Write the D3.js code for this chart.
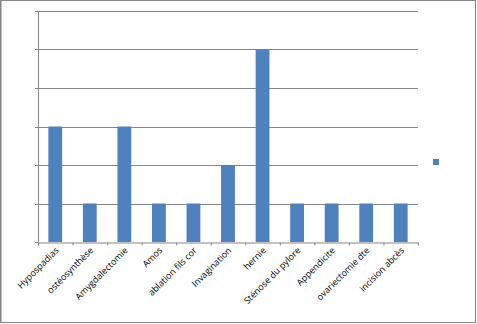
<!DOCTYPE html>
<html>
<head>
<meta charset="utf-8">
<script src="https://cdn.jsdelivr.net/npm/d3@7"></script>
<style>
  body { margin: 0; background: #fff; }
  svg { display: block; }
</style>
</head>
<body>
<div id="chart"></div>
<script>
// data
const categories = ['Hypospadias', 'ostéosynthèse', 'Amygdalectomie', 'Amos', 'ablation fils cor',
  'Invagination', 'hernie', 'Sténose du pylore', 'Appendicite', 'ovariectomie dte', 'incision abcès'];
const values = [3, 1, 3, 1, 1, 2, 5, 1, 1, 1, 1];
const yTicks = [0, 1, 2, 3, 4, 5, 6];

const width = 477, height = 324;
const margin = { top: 11, right: 59, bottom: 82, left: 38 };
const innerW = width - margin.left - margin.right;
const innerH = height - margin.top - margin.bottom;
const axisColor = '#868686';

const svg = d3.select('#chart').append('svg')
  .attr('width', width)
  .attr('height', height);

// outer frame
svg.append('rect')
  .attr('x', 1).attr('y', 0.5)
  .attr('width', width - 2.5).attr('height', height - 2)
  .attr('fill', 'none')
  .attr('stroke', axisColor)
  .attr('stroke-width', 1);
svg.append('line')
  .attr('x1', 0.5).attr('x2', 0.5).attr('y1', 0).attr('y2', height - 1)
  .attr('stroke', axisColor);

const chart = svg.append('g')
  .attr('transform', `translate(${margin.left}, ${margin.top})`);

const x = d3.scaleBand().domain(categories).range([0, innerW]).paddingInner(0.6).paddingOuter(0.3);
const y = d3.scaleLinear().domain([0, 6]).range([innerH, 0]);

// gridlines
chart.append('g')
  .selectAll('line')
  .data(yTicks.slice(1))
  .join('line')
  .attr('x1', 0).attr('x2', innerW)
  .attr('y1', d => Math.round(y(d)) + 0.5)
  .attr('y2', d => Math.round(y(d)) + 0.5)
  .attr('stroke', axisColor);

// bars
chart.append('g')
  .selectAll('rect')
  .data(values)
  .join('rect')
  .attr('x', (d, i) => x(categories[i]))
  .attr('y', d => y(d))
  .attr('width', x.bandwidth())
  .attr('height', d => innerH - y(d))
  .attr('fill', '#4F81BD');

// y axis (ticks only, no labels)
const yAxis = chart.append('g')
  .call(d3.axisLeft(y).tickValues(yTicks).tickSize(3).tickFormat(''));
yAxis.selectAll('line').attr('stroke', axisColor);
yAxis.select('.domain').attr('stroke', axisColor).attr('d', `M0.5,0V${innerH}`);
yAxis.selectAll('.tick').attr('transform', d => `translate(0,${Math.round(y(d)) + 0.5})`);

// x axis with ticks on category boundaries
const xb = d3.scaleLinear().domain([0, categories.length]).range([0, innerW]);
const xAxis = chart.append('g')
  .attr('transform', `translate(0, ${Math.round(innerH) + 0.5})`)
  .call(d3.axisBottom(xb).tickValues(d3.range(categories.length + 1)).tickSize(3).tickSizeOuter(0).tickFormat(''));
xAxis.selectAll('line').attr('stroke', axisColor);
xAxis.select('.domain').attr('stroke', axisColor);

// category labels
chart.append('g')
  .selectAll('text')
  .data(categories)
  .join('text')
  .attr('transform', d => `translate(${x(d) + x.bandwidth() / 2 + 4}, ${innerH + 9}) rotate(-45)`)
  .attr('text-anchor', 'end')
  .attr('font-family', 'Open Sans, sans-serif')
  .attr('font-size', '9px')
  .attr('fill', '#000')
  .text(d => d);

// legend: marker only, series has no name
svg.append('rect')
  .attr('x', 433).attr('y', 159)
  .attr('width', 6).attr('height', 6)
  .attr('fill', '#4F81BD');
</script>
</body>
</html>
